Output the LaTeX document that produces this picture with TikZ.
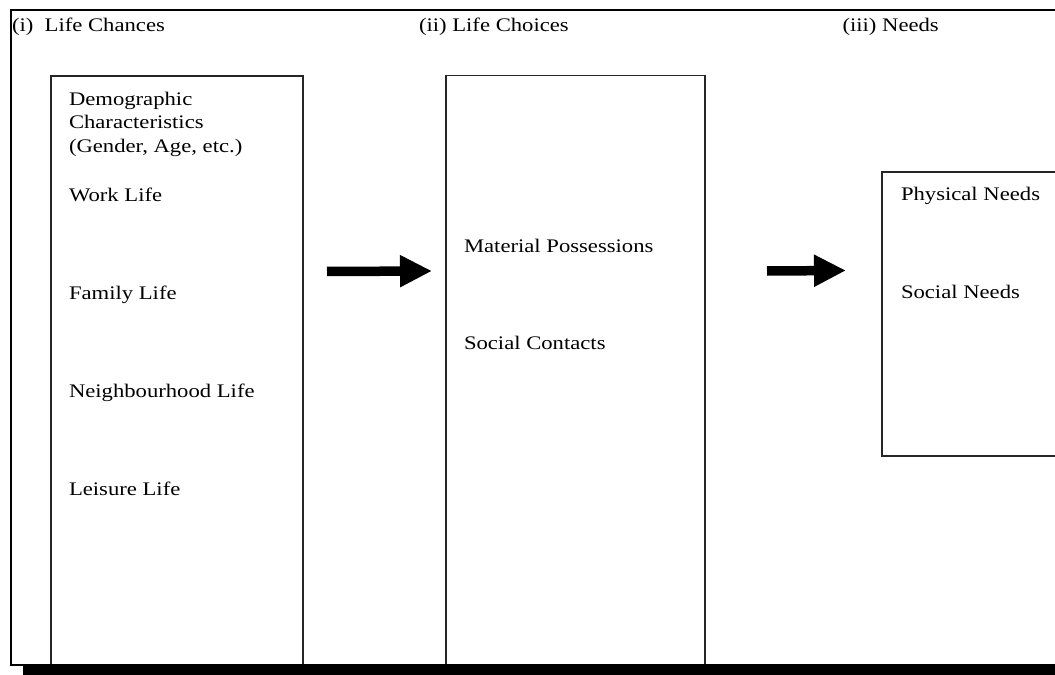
\documentclass[tikz,border=0pt]{standalone}
\usepackage{fontspec}
\setmainfont[FakeStretch=1.18]{Liberation Serif}
\usetikzlibrary{arrows.meta}
\tikzset{
  label text/.style={anchor=base west, inner sep=0pt, outer sep=0pt,
    font=\fontsize{19.2bp}{23bp}\selectfont},
  column box/.style={draw=black!85, line width=1.6bp, fill=white,
    anchor=north west, inner sep=0pt, outer sep=0pt},
  block arrow/.style={line width=9.5bp, line cap=butt,
    -{Triangle[length=32bp, width=30bp]}},
}
\begin{document}
\begin{tikzpicture}[x=1bp, y=-1bp]
  \useasboundingbox (0,0) rectangle (1055,675);
  \clip (0,0) rectangle (1055,675);

  % the three columns
  \node[column box, minimum width=252bp, minimum height=589bp] (chances) at (51,76) {};
  \node[column box, minimum width=259bp, minimum height=589.5bp] (choices) at (446,75.5) {};
  \node[column box, minimum width=200bp, minimum height=284bp] (needs) at (882,172) {};

  % drop shadow under the outer frame
  \fill[black] (23,665.5) rectangle (1075,676);

  % outer frame
  \draw[black, line width=2.3bp] (1075,10) -- (10.7,10) -- (10.7,665) -- (1075,665);

  % column headings
  \node[label text] (h1) at (12,31.5) {(i)\ \ Life Chances};
  \node[label text] (h2) at (419,31.5) {(ii) Life Choices};
  \node[label text] (h3) at (842.5,31.5) {(iii) Needs};

  % life chances
  \node[label text] (c1) at (69,105.5) {Demographic};
  \node[label text] (c2) at (69,129) {Characteristics};
  \node[label text] (c3) at (69,152.5) {(Gender, Age, etc.)};
  \node[label text] (c4) at (69,201.5) {Work Life};
  \node[label text] (c5) at (69,299.5) {Family Life};
  \node[label text] (c6) at (69,397) {Neighbourhood Life};
  \node[label text] (c7) at (69,495) {Leisure Life};

  % life choices
  \node[label text] (m1) at (464,252) {Material Possessions};
  \node[label text] (m2) at (464,349) {Social Contacts};

  % needs
  \node[label text] (n1) at (901,201) {Physical Needs};
  \node[label text] (n2) at (901,298) {Social Needs};

  % block arrows between the columns
  \coordinate (a1s) at (327,271.5);
  \coordinate (a1e) at (432,271);
  \coordinate (a2s) at (767,271);
  \coordinate (a2e) at (846,270.5);
  \draw[block arrow] (a1s) -- (a1e);
  \draw[block arrow] (a2s) -- (a2e);
\end{tikzpicture}
\end{document}
